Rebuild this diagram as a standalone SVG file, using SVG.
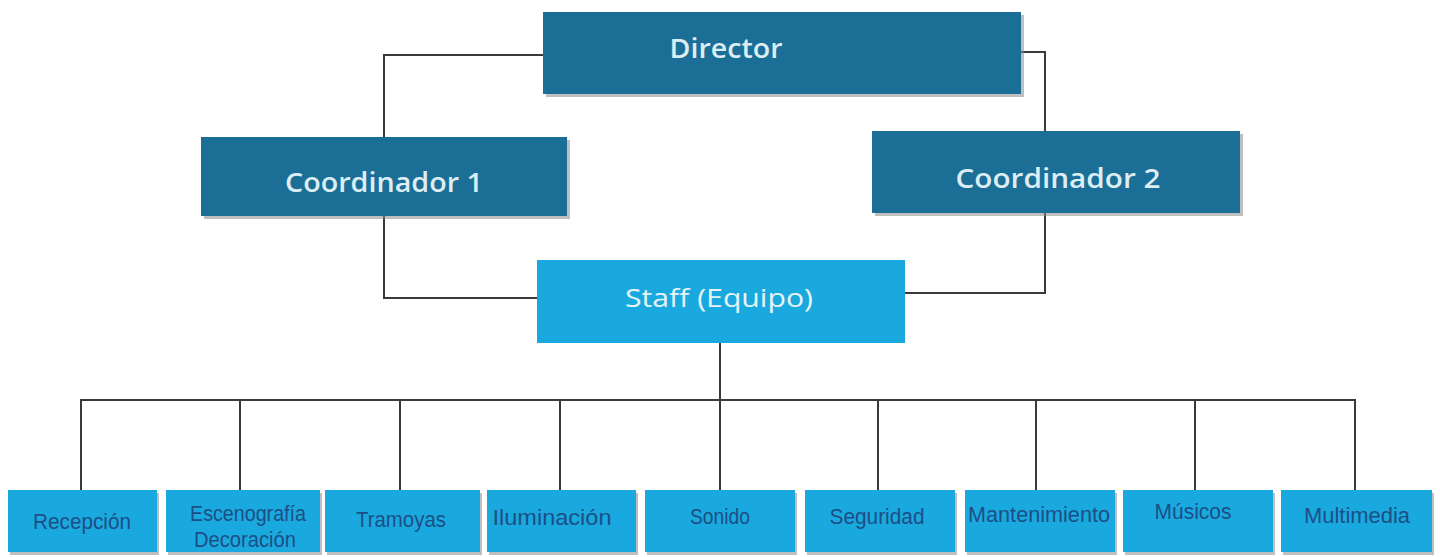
<svg xmlns="http://www.w3.org/2000/svg" width="1440" height="557" viewBox="0 0 1440 557">
<style>
.dark{fill:#1b6f97}
.light{fill:#1aa9de}
.shadow{fill:#8a8a8a;opacity:0.55}
.t1{font-family:"Open Sans","Liberation Sans",sans-serif;font-weight:600;font-size:27px;fill:#dcedf3;text-anchor:middle}
.t2{font-family:"Open Sans","Liberation Sans",sans-serif;font-weight:400;font-size:26px;fill:#e6f4f8;text-anchor:middle}
.t3{font-family:"Liberation Sans Narrow","Liberation Sans",sans-serif;font-size:22px;fill:#1c4f86;text-anchor:middle}
.ln{fill:none;stroke:#3a3a3a;stroke-width:2}
</style>
<rect width="1440" height="557" fill="#ffffff"/>
<g id="connectors">
<path class="ln" d="M543 55 H384 V137"/>
<path class="ln" d="M1021 52 H1045 V131"/>
<path class="ln" d="M384 216 V298 H537"/>
<path class="ln" d="M1045 213 V293 H905"/>
<path class="ln" d="M720 343 V400"/>
<path class="ln" d="M81 490 V400 H1355 V490"/>
<path class="ln" d="M240 400 V490 M400 400 V490 M560 400 V490 M720 400 V490 M878 400 V490 M1036 400 V490 M1195 400 V490"/>
</g>
<g id="director">
<rect class="shadow" x="546" y="15" width="478" height="82"/>
<rect class="dark" x="543" y="12" width="478" height="82"/>
<text class="t1" x="726" y="58" textLength="113" lengthAdjust="spacingAndGlyphs">Director</text>
</g>
<g id="coordinador1">
<rect class="shadow" x="204" y="140" width="366" height="79"/>
<rect class="dark" x="201" y="137" width="366" height="79"/>
<text class="t1" x="384" y="192" textLength="198" lengthAdjust="spacingAndGlyphs">Coordinador 1</text>
</g>
<g id="coordinador2">
<rect class="shadow" x="875" y="134" width="368" height="82"/>
<rect class="dark" x="872" y="131" width="368" height="82"/>
<text class="t1" x="1058" y="188" textLength="205" lengthAdjust="spacingAndGlyphs">Coordinador 2</text>
</g>
<g id="staff">
<rect class="light" x="537" y="260" width="368" height="83"/>
<text class="t2" x="719" y="307" textLength="188" lengthAdjust="spacingAndGlyphs">Staff (Equipo)</text>
</g>
<g id="recepcion">
<rect class="shadow" x="10" y="493" width="149" height="62"/>
<rect class="light" x="8" y="490" width="149" height="62"/>
<text class="t3" x="82" y="529" textLength="98" lengthAdjust="spacingAndGlyphs">Recepción</text>
</g>
<g id="escenografia">
<rect class="shadow" x="168" y="493" width="154" height="62"/>
<rect class="light" x="166" y="490" width="154" height="62"/>
<text class="t3" x="248" y="521" textLength="116" lengthAdjust="spacingAndGlyphs">Escenografía</text>
<text class="t3" x="245" y="547" textLength="102" lengthAdjust="spacingAndGlyphs">Decoración</text>
</g>
<g id="tramoyas">
<rect class="shadow" x="327" y="493" width="155" height="62"/>
<rect class="light" x="325" y="490" width="155" height="62"/>
<text class="t3" x="401" y="527" textLength="90" lengthAdjust="spacingAndGlyphs">Tramoyas</text>
</g>
<g id="iluminacion">
<rect class="shadow" x="489" y="493" width="149" height="62"/>
<rect class="light" x="487" y="490" width="149" height="62"/>
<text class="t3" x="552" y="525" textLength="119" lengthAdjust="spacingAndGlyphs">Iluminación</text>
</g>
<g id="sonido">
<rect class="shadow" x="647" y="493" width="150" height="62"/>
<rect class="light" x="645" y="490" width="150" height="62"/>
<text class="t3" x="720" y="524" textLength="60" lengthAdjust="spacingAndGlyphs">Sonido</text>
</g>
<g id="seguridad">
<rect class="shadow" x="807" y="493" width="150" height="62"/>
<rect class="light" x="805" y="490" width="150" height="62"/>
<text class="t3" x="877" y="524" textLength="95" lengthAdjust="spacingAndGlyphs">Seguridad</text>
</g>
<g id="mantenimiento">
<rect class="shadow" x="967" y="493" width="150" height="62"/>
<rect class="light" x="965" y="490" width="150" height="62"/>
<text class="t3" x="1039" y="522" textLength="142" lengthAdjust="spacingAndGlyphs">Mantenimiento</text>
</g>
<g id="musicos">
<rect class="shadow" x="1125" y="493" width="150" height="62"/>
<rect class="light" x="1123" y="490" width="150" height="62"/>
<text class="t3" x="1193" y="519" textLength="77" lengthAdjust="spacingAndGlyphs">Músicos</text>
</g>
<g id="multimedia">
<rect class="shadow" x="1283" y="493" width="151" height="62"/>
<rect class="light" x="1281" y="490" width="151" height="62"/>
<text class="t3" x="1357" y="523" textLength="106" lengthAdjust="spacingAndGlyphs">Multimedia</text>
</g>
</svg>
